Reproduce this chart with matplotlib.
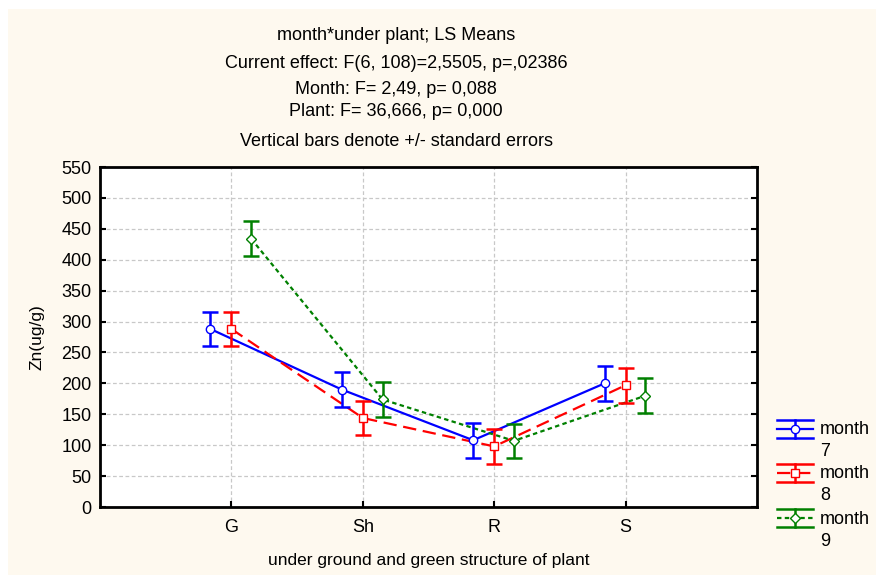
import matplotlib
matplotlib.use("Agg")
import matplotlib.pyplot as plt
from matplotlib.patches import Rectangle
from matplotlib.lines import Line2D
import numpy as np

plt.rcParams['font.family'] = ['Liberation Sans', 'DejaVu Sans']

categories = ["G", "Sh", "R", "S"]
month_names = ["month", "month", "month"]
month_nums = ["7", "8", "9"]
means_m7 = [288, 190, 108, 200]
means_m8 = [288, 144, 98, 197]
means_m9 = [434, 174, 107, 180]
se_m7 = [28, 28, 28, 28]
se_m8 = [28, 28, 28, 28]
se_m9 = [28, 28, 28, 28]
yticks = [0, 50, 100, 150, 200, 250, 300, 350, 400, 450, 500, 550]

title_lines = [
    "month*under plant; LS Means",
    "Current effect: F(6, 108)=2,5505, p=,02386",
    "Month: F= 2,49, p= 0,088",
    "Plant: F= 36,666, p= 0,000",
    "Vertical bars denote +/- standard errors",
]

W, H = 876, 575
fx = lambda px: px / W
fy = lambda py: 1 - py / H

fig = plt.figure(figsize=(W / 100, H / 100), dpi=100, facecolor="white")
bg = "#FEF9EF"
fig.patches.append(Rectangle((fx(8), 0), 1 - fx(8), fy(9), transform=fig.transFigure,
                             facecolor=bg, edgecolor="none", zorder=-10))

# axes in pixels: x 100..757, y 167..507
ax = fig.add_axes([fx(100), fy(507), fx(757) - fx(100), fy(167) - fy(507)])
ax.set_facecolor("white")

x = np.arange(1, len(categories) + 1)
offsets = [-0.16, 0.0, 0.15]
series = [
    (means_m7, se_m7, "#0000FF", "o", "-"),
    (means_m8, se_m8, "#FF0000", "s", (0, (6, 3))),
    (means_m9, se_m9, "#008000", "D", (0, (2, 1.5))),
]
LW = 1.6
for (m, s, c, mk, ls), off in zip(series, offsets):
    xs = x + off
    ax.plot(xs, m, color=c, lw=LW, linestyle=ls, zorder=3)
    ax.errorbar(xs, m, yerr=s, fmt="none", ecolor=c, elinewidth=1.8,
                capsize=6, capthick=1.8, zorder=4)
    ax.plot(xs, m, linestyle="none", marker=mk, markersize=6 if mk != "D" else 5.5,
            markerfacecolor="white", markeredgecolor=c, markeredgewidth=1.0, zorder=5)

ax.set_xlim(0, 5)
ax.set_ylim(0, 550)
ax.set_xticks(x)
ax.set_xticklabels(categories)
ax.set_yticks(yticks)
ax.set_yticklabels([str(v) for v in yticks])
ax.grid(True, color="#C8C8C8", linestyle=(0, (3, 2)), linewidth=0.9)
ax.set_axisbelow(True)
for sp in ax.spines.values():
    sp.set_linewidth(2.0)
    sp.set_color("black")
ax.tick_params(axis="both", direction="in", length=4, width=1.5, labelsize=13,
               colors="black", right=True)
ax.tick_params(axis="x", pad=9)
ax.tick_params(axis="y", pad=6)
ax.set_ylabel("Zn(ug/g)", fontsize=12.5, labelpad=12)
ax.set_xlabel("under ground and green structure of plant", fontsize=12.5, labelpad=12)

ys = [36, 63, 89, 111, 141]
for t, yy in zip(title_lines, ys):
    fig.text(fx(396), fy(yy), t, ha="center", va="center", fontsize=13)

# legend drawn manually (handle aligned with first text line, as in reference)
leg_mid = [429, 473, 518]
for (m, s, c, mk, ls), yy, nm, num in zip(series, leg_mid, month_names, month_nums):
    x0, x1, xc = 777, 813, 795
    for dy in (-9, 9):
        fig.add_artist(Line2D([fx(x0), fx(x1)], [fy(yy + dy), fy(yy + dy)],
                              color=c, lw=1.8, transform=fig.transFigure))
    fig.add_artist(Line2D([fx(xc), fx(xc)], [fy(yy - 9), fy(yy + 9)],
                          color=c, lw=1.8, transform=fig.transFigure))
    fig.add_artist(Line2D([fx(x0), fx(x1)], [fy(yy), fy(yy)], color=c, lw=LW,
                          linestyle=ls, transform=fig.transFigure))
    fig.add_artist(Line2D([fx(xc)], [fy(yy)], linestyle="none", marker=mk,
                          markersize=6 if mk != "D" else 5.5, markerfacecolor="white",
                          markeredgecolor=c, markeredgewidth=1.0,
                          transform=fig.transFigure))
    fig.text(fx(820), fy(yy + 1), nm, ha="left", va="center", fontsize=13)
    fig.text(fx(820), fy(yy + 23), num, ha="left", va="center", fontsize=13)

fig.savefig("out.png", dpi=100, facecolor=fig.get_facecolor())
